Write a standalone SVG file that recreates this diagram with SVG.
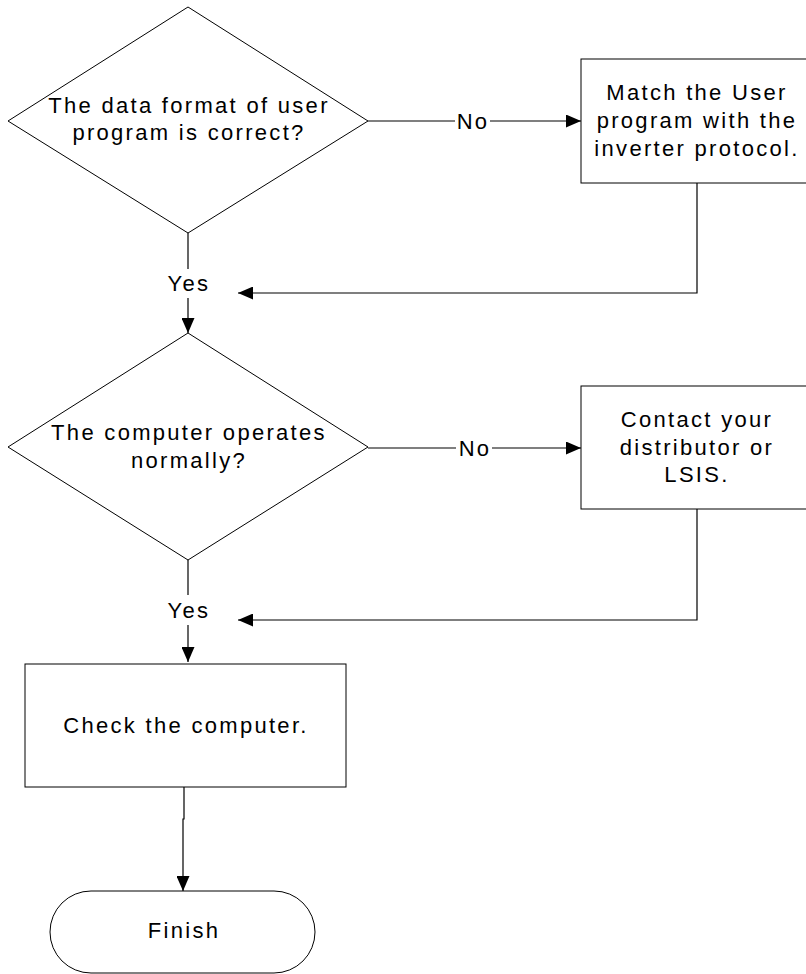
<svg xmlns="http://www.w3.org/2000/svg" width="806" height="974" viewBox="0 0 806 974">
<style>
.shape{fill:#fff;stroke:#000;stroke-width:1}
.conn{fill:none;stroke:#000;stroke-width:1.2}
text{font-family:"Liberation Sans",Arial,sans-serif;font-size:22px;letter-spacing:2.3px;fill:#000;text-anchor:middle}
</style>
<defs>
<marker id="arr" markerWidth="15" markerHeight="13" refX="15" refY="6.5" orient="auto" markerUnits="userSpaceOnUse">
<path d="M0,0 L15,6.5 L0,13 Z" fill="#000"/>
</marker>
</defs>
<rect width="806" height="974" fill="#fff"/>
<g id="connectors">
<path class="conn" d="M188,233 V269"/>
<path class="conn" d="M188,298 V333" marker-end="url(#arr)"/>
<path class="conn" d="M368,121 H455"/>
<path class="conn" d="M490,121 H581" marker-end="url(#arr)"/>
<path class="conn" d="M697,183 V293 H238" marker-end="url(#arr)"/>
<path class="conn" d="M188,560 V595"/>
<path class="conn" d="M188,625 V662" marker-end="url(#arr)"/>
<path class="conn" d="M368,448 H456"/>
<path class="conn" d="M492,448 H581" marker-end="url(#arr)"/>
<path class="conn" d="M697,509 V620 H238" marker-end="url(#arr)"/>
<path class="conn" d="M184,787 V819 H183 V891" marker-end="url(#arr)"/>
<text x="189" y="291">Yes</text>
<text x="473" y="129">No</text>
<text x="189" y="618">Yes</text>
<text x="475" y="456">No</text>
</g>
<g id="decision1">
<polygon class="shape" points="188,7 368,121 188,233 8,121"/>
<text x="189" y="113">The data format of user</text>
<text x="189" y="140">program is correct?</text>
</g>
<g id="box1">
<rect class="shape" x="581" y="59" width="226" height="124"/>
<text x="697" y="100">Match the User</text>
<text x="697" y="128">program with the</text>
<text x="697" y="156">inverter protocol.</text>
</g>
<g id="decision2">
<polygon class="shape" points="188,333 368,447 188,560 8,447"/>
<text x="189" y="440">The computer operates</text>
<text x="189" y="468">normally?</text>
</g>
<g id="box2">
<rect class="shape" x="581" y="386" width="226" height="123"/>
<text x="697" y="427">Contact your</text>
<text x="697" y="455">distributor or</text>
<text x="697" y="482">LSIS.</text>
</g>
<g id="box3">
<rect class="shape" x="25" y="664" width="321" height="123"/>
<text x="186" y="733">Check the computer.</text>
</g>
<g id="finish">
<rect class="shape" x="50" y="891" width="265" height="82" rx="41" ry="41"/>
<text x="184" y="938">Finish</text>
</g>
</svg>
